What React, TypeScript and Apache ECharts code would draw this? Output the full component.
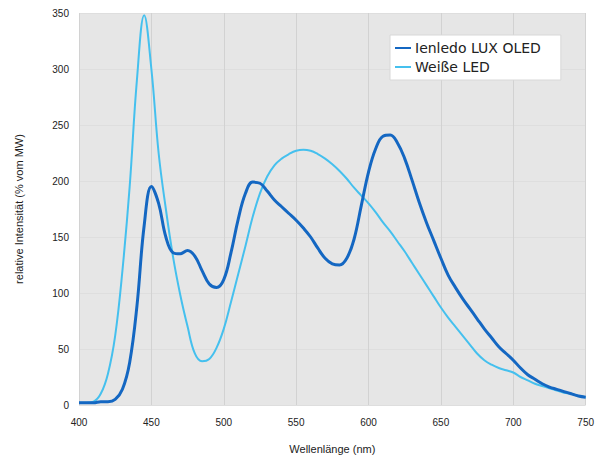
import React, { useEffect, useRef } from "react";
import * as echarts from "echarts";

const wavelengths = [400, 405, 410, 415, 420, 425, 430, 435, 440, 445, 450, 455, 460, 465, 470, 475, 480, 485, 490, 495, 500, 505, 510, 515, 520, 525, 530, 535, 540, 545, 550, 555, 560, 565, 570, 575, 580, 585, 590, 595, 600, 605, 610, 615, 620, 625, 630, 635, 640, 645, 650, 655, 660, 665, 670, 675, 680, 685, 690, 695, 700, 705, 710, 715, 720, 725, 730, 735, 740, 745, 750];
const oledValues = [2, 2, 2, 3, 3, 5, 14, 38, 88, 160, 195, 180, 150, 136, 135, 138, 133, 120, 108, 105, 112, 136, 166, 189, 199, 198, 191, 183, 177, 171, 165, 158, 150, 140, 131, 126, 125, 131, 148, 178, 208, 229, 240, 241, 234, 220, 201, 181, 163, 147, 131, 116, 105, 95, 86, 77, 68, 60, 52, 46, 40, 33, 27, 23, 19, 16, 14, 12, 10, 8, 7];
const ledValues = [2, 2, 3, 10, 28, 62, 120, 195, 290, 348, 300, 225, 175, 132, 98, 70, 46, 39, 41, 51, 68, 92, 117, 142, 168, 189, 204, 214, 220, 224, 227, 228, 227, 224, 220, 215, 209, 202, 194, 187, 180, 172, 163, 155, 146, 137, 127, 117, 107, 97, 87, 78, 70, 62, 54, 46, 40, 36, 33, 31, 29, 25, 22, 19, 17, 15, 13, 11, 10, 8, 7];

const seriesNames = ["Ienledo LUX OLED", "Weiße LED"];
const xTicks = [400, 750, 50];
const yTicks = [0, 350, 50];

const pairs = (xs: number[], ys: number[]) => xs.map((x, i) => [x, ys[i]]);

export default function App() {
  const ref = useRef<HTMLDivElement>(null);
  useEffect(() => {
    if (!ref.current) return;
    const chart = echarts.init(ref.current, null, { renderer: "svg" });
    const font = "Liberation Sans";
    chart.setOption({
      animation: false,
      backgroundColor: "#ffffff",
      textStyle: { fontFamily: font },
      grid: {
        left: 79,
        top: 13,
        right: 7,
        bottom: 66,
        show: true,
        backgroundColor: "#e6e6e6",
        borderWidth: 0,
      },
      legend: {
        left: 390,
        top: 35,
        orient: "vertical",
        backgroundColor: "#ffffff",
        borderColor: "#d8d8d8",
        borderWidth: 1,
        padding: [6, 20, 6, 5],
        itemGap: 5,
        itemWidth: 16,
        itemHeight: 2,
        icon: "rect",
        textStyle: { fontSize: 14, color: "#222", fontFamily: "DejaVu Sans", padding: [0, 0, 0, -1] },
        data: seriesNames,
      },
      xAxis: {
        type: "value",
        min: xTicks[0],
        max: xTicks[1],
        interval: xTicks[2],
        name: "Wellenlänge (nm)",
        nameLocation: "middle",
        nameGap: 38,
        nameTextStyle: { fontSize: 11, color: "#222", fontFamily: font },
        axisLine: { show: false },
        axisTick: { show: false },
        axisLabel: { fontSize: 10, color: "#222", margin: 12, fontFamily: font },
        splitLine: { show: true, lineStyle: { color: "#d2d2d2", width: 1 } },
      },
      yAxis: {
        type: "value",
        min: yTicks[0],
        max: yTicks[1],
        interval: yTicks[2],
        name: "relative Intensität (% vom MW)",
        nameLocation: "middle",
        nameGap: 55,
        nameRotate: 90,
        nameTextStyle: { fontSize: 11, color: "#222", fontFamily: font },
        axisLine: { show: false },
        axisTick: { show: false },
        axisLabel: { fontSize: 10, color: "#222", margin: 10, fontFamily: font },
        splitLine: { show: true, lineStyle: { color: "#dedede", width: 1 } },
      },
      series: [
        {
          name: seriesNames[1],
          type: "line",
          data: pairs(wavelengths, ledValues),
          smooth: 0.4,
          symbol: "none",
          lineStyle: { color: "#45c0ee", width: 2 },
          itemStyle: { color: "#45c0ee" },
          z: 2,
        },
        {
          name: seriesNames[0],
          type: "line",
          data: pairs(wavelengths, oledValues),
          smooth: 0.4,
          symbol: "none",
          lineStyle: { color: "#1467c2", width: 3 },
          itemStyle: { color: "#1467c2" },
          z: 3,
        },
      ],
    });
    return () => chart.dispose();
  }, []);
  return <div ref={ref} style={{ width: 597, height: 471, position: "absolute", left: 0, top: 0 }} />;
}
